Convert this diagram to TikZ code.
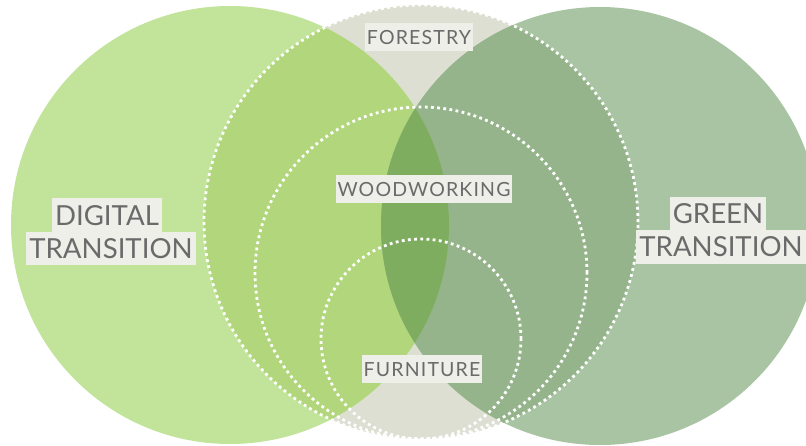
\documentclass[tikz,border=0pt]{standalone}
\usepackage{fontspec}
\setmainfont{Lato}
\newfontfamily\spacedlato[LetterSpace=6]{Lato}
\definecolor{greyc}{HTML}{DDDFD3}
\definecolor{lout}{HTML}{C1E49A}
\definecolor{lin}{HTML}{B1D67B}
\definecolor{rout}{HTML}{A8C4A2}
\definecolor{rin}{HTML}{96B48B}
\definecolor{lens}{HTML}{7FAD5F}
\definecolor{labelbg}{HTML}{EFEFE9}
\definecolor{labeltext}{HTML}{6A6A6A}
\tikzset{
  dotring/.style={draw=white, line width=2.8pt, dash pattern=on 2.8pt off 3.4pt},
  lblsmall/.style={fill=labelbg, text=labeltext, inner xsep=1.5pt, inner ysep=0pt,
    minimum height=28pt, text height=14pt, text depth=0pt, font=\spacedlato\fontsize{19.5}{20}\selectfont},
  lblbig/.style={fill=labelbg, text=labeltext, inner xsep=3pt, inner ysep=0pt,
    minimum height=33.5pt, text height=20pt, text depth=0pt, font=\fontsize{27.6}{30}\selectfont}
}
\begin{document}
\begin{tikzpicture}[x=1pt,y=-1pt]
\useasboundingbox (0,0) rectangle (806,445);
\clip (0,0) rectangle (806,445);
\coordinate (cL) at (230,225);
\coordinate (cR) at (600,226);
\coordinate (cG) at (421,222);
\coordinate (cM) at (421,273);
\coordinate (cS) at (421,339);
% grey circle
\fill[greyc] (cG) circle[radius=217pt];
% outer colours
\fill[lout] (cL) circle[radius=219pt];
\fill[rout] (cR) circle[radius=219pt];
% inside grey circle
\begin{scope}
  \clip (cG) circle[radius=217pt];
  \fill[lin] (cL) circle[radius=219pt];
  \fill[rin] (cR) circle[radius=219pt];
\end{scope}
% lens
\begin{scope}
  \clip (cL) circle[radius=219pt];
  \fill[lens] (cR) circle[radius=219pt];
\end{scope}
% dotted rings
\draw[dotring] (cG) circle[radius=217pt];
\draw[dotring] (cM) circle[radius=166pt];
\draw[dotring] (cS) circle[radius=100pt];
% labels
\node[lblsmall] (forestry) at (419,37) {FORESTRY};
\node[lblsmall] (woodworking) at (424,189) {WOODWORKING};
\node[lblsmall] (furniture) at (422,369) {FURNITURE};
\node[lblbig] (digital) at (107,215) {DIGITAL};
\node[lblbig, anchor=north] (digitaltr) at (111,231.5) {TRANSITION};
\node[lblbig] (green) at (718,213.5) {GREEN};
\node[lblbig, anchor=north] (greentr) at (721,230) {TRANSITION};
\end{tikzpicture}
\end{document}
